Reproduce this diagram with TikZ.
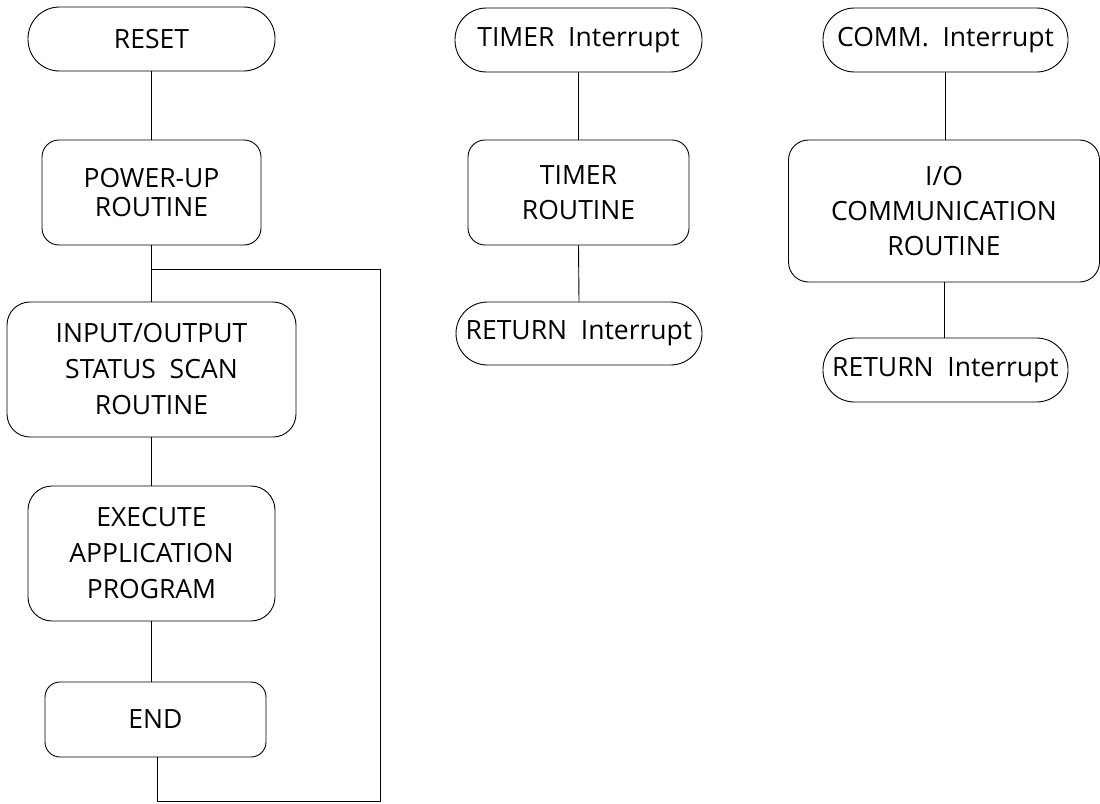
\documentclass[tikz,border=0pt]{standalone}
\usepackage{fontspec}
\setmainfont{Open Sans}
\begin{document}
\begin{tikzpicture}[x=1pt,y=-1pt,
  every node/.style={font=\fontsize{26.5}{36}\selectfont, align=center, inner sep=0pt},
  term/.style={draw, line width=0.9pt, rounded corners=31.5pt, minimum height=64pt},
  proc/.style={draw, line width=0.9pt},
  conn/.style={line width=0.9pt}]
\useasboundingbox (0,0) rectangle (1100,803);
% left column
\node[term, minimum width=247pt] (reset) at (151.5,39) {RESET};
\node[proc, rounded corners=17pt, minimum width=219pt, minimum height=105pt] (power) at (151.5,192.5) {POWER-UP\\[-7pt]ROUTINE};
\node[proc, rounded corners=23pt, minimum width=289pt, minimum height=135pt] (scan) at (151.5,369.5) {INPUT/OUTPUT\\STATUS~~SCAN\\ROUTINE};
\node[proc, rounded corners=24pt, minimum width=247pt, minimum height=135pt] (exec) at (151.5,553.5) {EXECUTE\\APPLICATION\\PROGRAM};
\node[proc, rounded corners=15pt, minimum width=221pt, minimum height=75pt] (end) at (155.5,719.5) {END};
% middle column
\node[term, minimum width=247pt] (tint) at (578.5,40) {TIMER~~Interrupt};
\node[proc, rounded corners=17pt, minimum width=221pt, minimum height=105pt] (troutine) at (578.5,192.5) {TIMER\\[-1pt]ROUTINE};
\node[term, minimum width=246pt, minimum height=63pt] (tret) at (579,333.5) {RETURN~~Interrupt};
% right column
\node[term, minimum width=245pt] (cint) at (945.5,40) {COMM.~~Interrupt};
\node[proc, rounded corners=20pt, minimum width=311pt, minimum height=142pt] (comm) at (944,211) {I/O\\[-1pt]COMMUNICATION\\[-1pt]ROUTINE};
\node[term, minimum width=245pt] (cret) at (945.5,370) {RETURN~~Interrupt};
% connectors
\coordinate (join) at (152,269);
\coordinate (loopBL) at (157,801);
\coordinate (loopBR) at (380,801);
\coordinate (loopTR) at (380,269);
\draw[conn] (reset.south) -- (power.north);
\draw[conn] (power.south) -- (scan.north);
\draw[conn] (scan.south) -- (exec.north);
\draw[conn] (exec.south) -- (exec.south |- end.north);
\draw[conn] (end.south -| loopBL) -- (loopBL) -- (loopBR) -- (loopTR) -- (join);
\draw[conn] (tint.south) -- (troutine.north);
\draw[conn] (troutine.south) -- (tret.north);
\draw[conn] (cint.south) -- (cint.south |- comm.north);
\draw[conn] (comm.south) -- (comm.south |- cret.north);
\end{tikzpicture}
\end{document}
